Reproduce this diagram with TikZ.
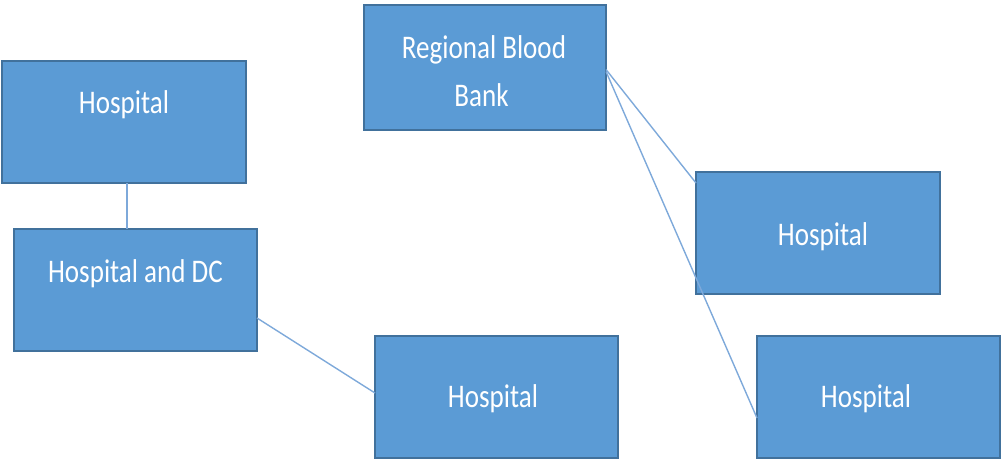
\documentclass[tikz,border=0pt]{standalone}
\usepackage{fontspec}
\setmainfont{Carlito}
\definecolor{boxfill}{HTML}{5B9BD5}
\definecolor{boxline}{HTML}{41719C}
\definecolor{conn}{HTML}{7EA9DA}
\tikzset{
  box/.style={rectangle, fill=boxfill, draw=boxline, line width=1.5pt,
    minimum width=243pt, minimum height=122pt, inner sep=0pt, outer sep=0pt},
  lbl/.style={text=white, font=\fontsize{33}{40}\selectfont, inner sep=0pt, anchor=base},
  conline/.style={draw=conn, line width=1.4pt}
}
\newcommand{\cond}[1]{\scalebox{0.82}[1]{#1}}
\begin{document}
\begin{tikzpicture}[x=1pt,y=-1pt]
\useasboundingbox (0,0) rectangle (1005,464);
\node[box, minimum width=244pt] (h1) at (124,122) {};
\node[box] (hdc) at (135.5,290) {};
\node[box, minimum width=242pt, minimum height=125pt] (rbb) at (485,67.5) {};
\node[box, minimum width=244pt] (r1) at (818,233) {};
\node[box] (r2) at (878.5,397) {};
\node[box] (hb) at (496.5,397) {};
\node[lbl] (t1) at ([yshift=9pt]h1.center) {\cond{Hospital}};
\node[lbl] (t2) at ([yshift=8pt]hdc.center) {\cond{Hospital and DC}};
\node[lbl] (t3a) at ([xshift=-1pt,yshift=9.5pt]rbb.center) {\cond{Regional Blood}};
\node[lbl] (t3b) at ([xshift=-3.5pt,yshift=-38.5pt]rbb.center) {\cond{Bank}};
\node[lbl] (t4) at ([xshift=5pt,yshift=-12pt]r1.center) {\cond{Hospital}};
\node[lbl] (t5) at ([xshift=-12.5pt,yshift=-10pt]r2.center) {\cond{Hospital}};
\node[lbl] (t6) at ([xshift=-3.5pt,yshift=-10pt]hb.center) {\cond{Hospital}};
\draw[conline] ([xshift=3pt]h1.south) -- ([xshift=3pt]h1.south |- hdc.north);
\draw[conline] ([yshift=-28pt]hdc.east) -- ([yshift=4pt]hb.west);
\draw[conline] ([yshift=-2pt]rbb.east) -- ([yshift=-11pt]r1.north west);
\draw[conline] ([yshift=-4pt]rbb.east) -- ([yshift=-21pt]r2.west);
\end{tikzpicture}
\end{document}
